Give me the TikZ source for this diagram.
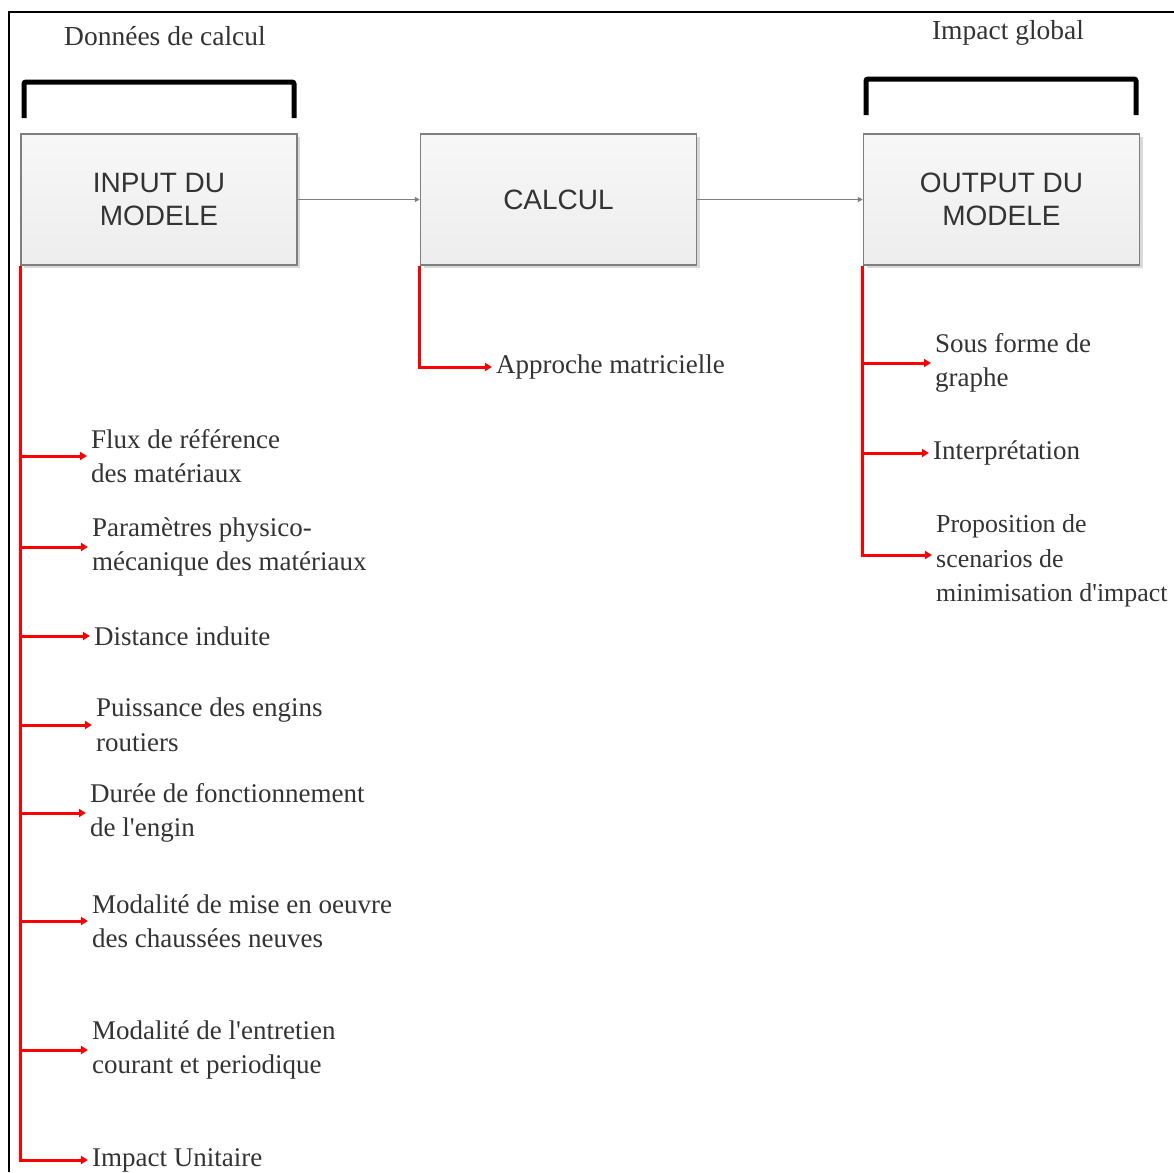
\documentclass[tikz,border=0pt]{standalone}
\usepackage{fontspec}
\setmainfont{Liberation Serif}
\newfontfamily\boxfont{Liberation Sans}
\usetikzlibrary{arrows.meta,shadows}
\definecolor{txt}{HTML}{333333}
\definecolor{boxline}{HTML}{7F7F7F}
\definecolor{redline}{HTML}{FF0000}
\newcommand{\apos}{\textquotesingle}
\tikzset{
  mainbox/.style={draw=boxline, line width=1.5pt, top color=white!97!black, bottom color=white!93!black,
    minimum width=276pt, minimum height=131pt, inner sep=0pt, align=center, text=txt,
    font=\boxfont\fontsize{28}{32.5}\selectfont,
    drop shadow={shadow xshift=3pt, shadow yshift=-3pt, fill=black!15, opacity=1}},
  lbl/.style={anchor=west, align=left, inner xsep=4pt, inner ysep=0pt, text=txt,
    font=\fontsize{27}{34.5}\selectfont},
  head/.style={text=txt, font=\fontsize{27.5}{30}\selectfont},
  brace/.style={line width=5pt, rounded corners=2pt},
  flow/.style={draw=boxline, line width=1.5pt, -{Triangle[length=5pt,width=5pt]}},
  branch/.style={draw=redline, line width=3pt, -{Triangle[length=7pt,width=8pt]}}
}
\begin{document}
\begin{tikzpicture}[x=1pt,y=-1pt]
\useasboundingbox (0,0) rectangle (1174,1172);
% outer frame (top and left edges)
\draw[line width=2pt] (9,1172) -- (9,12) -- (1174,12);
% headings
\node[head] (h1) at (165,36) {Données de calcul};
\node[head] (h2) at (1008,33) {Impact global};
% brackets
\draw[brace] (24,118) -- (24,82) -- (294,82) -- (294,118);
\draw[brace] (866,115) -- (866,79) -- (1136,79) -- (1136,115);
% boxes
\node[mainbox] (in) at (159,199.5) {INPUT DU\\MODELE};
\node[mainbox] (ca) at (558.5,199.5) {CALCUL};
\node[mainbox] (out) at (1001.5,199.5) {OUTPUT DU\\MODELE};
% flow connectors
\draw[flow] (in.east) -- (ca.west);
\draw[flow] (ca.east) -- (out.west);
% input labels
\node[lbl] (i1) at (87,456) {Flux de référence\\des matériaux};
\node[lbl] (i2) at (88,547) {Paramètres physico-\\mécanique des matériaux};
\node[lbl] (i3) at (90,636) {Distance induite};
\node[lbl] (i4) at (92,725) {Puissance des engins\\routiers};
\node[lbl] (i5) at (86,813) {Durée de fonctionnement\\de l\apos engin};
\node[lbl] (i6) at (88,921) {Modalité de mise en oeuvre\\des chaussées neuves};
\node[lbl] (i7) at (88,1050) {Modalité de l\apos entretien\\courant et periodique};
\node[lbl] (i8) at (88,1160) {Impact Unitaire};
\foreach \n in {i1,i2,i3,i4,i5,i6,i7,i8}{
  \draw[branch] (in.south west) |- (\n.west);
}
% calcul label
\node[lbl] (c1) at (492,367) {Approche matricielle};
\draw[branch] (ca.south west) |- (c1.west);
% output labels
\node[lbl] (o1) at (931,363) {Sous forme de\\graphe};
\node[lbl] (o2) at (929,453) {Interprétation};
\node[lbl, font=\fontsize{25.9}{34.5}\selectfont] (o3) at (932,561) {Proposition de\\scenarios de\\minimisation d\apos impact};
\draw[branch] (out.south west) |- (o1.west);
\draw[branch] (out.south west) |- (o2.west);
\draw[branch] (out.south west) |- ([yshift=6pt]o3.west);
\end{tikzpicture}
\end{document}
